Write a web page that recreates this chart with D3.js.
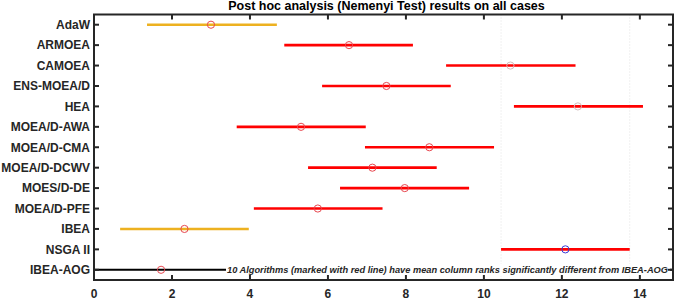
<!DOCTYPE html>
<html>
<head>
<meta charset="utf-8">
<script src="https://cdn.jsdelivr.net/npm/d3@7"></script>
<style>
  body { margin: 0; background: #fff; }
  text { font-family: "Liberation Sans", Arial, sans-serif; }
</style>
</head>
<body>
<svg id="chart" width="685" height="303"></svg>
<script>
const algorithms = ["AdaW", "ARMOEA", "CAMOEA", "ENS-MOEA/D", "HEA", "MOEA/D-AWA", "MOEA/D-CMA",
  "MOEA/D-DCWV", "MOES/D-DE", "MOEA/D-PFE", "IBEA", "NSGA II", "IBEA-AOG"];
const meanRanks = [3.0, 6.54, 10.68, 7.5, 12.41, 5.31, 8.6, 7.14, 7.97, 5.74, 2.32, 12.09, 1.72];
const lowerBounds = [1.36, 4.88, 9.03, 5.85, 10.77, 3.66, 6.95, 5.49, 6.31, 4.10, 0.67, 10.44, 0.07];
const upperBounds = [4.69, 8.18, 12.35, 9.15, 14.08, 6.97, 10.26, 8.79, 9.62, 7.40, 3.97, 13.74, 3.37];
// group: 0 = not different (orange), 1 = different (red), 2 = selected, 3 = control
const groupType = [0, 1, 1, 1, 1, 1, 1, 1, 1, 1, 0, 2, 3];
const xTicks = [0, 2, 4, 6, 8, 10, 12, 14];
const titleText = "Post hoc analysis (Nemenyi Test) results on all cases";
const noteText = "10 Algorithms (marked with red line) have mean column ranks significantly different from IBEA-AOG";

const svg = d3.select("#chart");
const mLeft = 94, mRight = 673, mTop = 14.5, mBottom = 280;
const axisColor = "#262626";

const x = d3.scaleLinear().domain([0, 14.85]).range([mLeft, mRight]);
const y = d3.scaleLinear().domain([0.5, 13.5]).range([mTop, mBottom]);

const lineColor = t => t === 0 ? "#EDB120" : t === 3 ? "#000" : "#FF0000";
const markColor = (t, i) => t === 2 ? "#3b3bd6" : (i === 2 || i === 4) ? "#d4bcbc" : "#e8474f";

// reference lines at selected group's interval
const sel = groupType.indexOf(2);
svg.selectAll("line.ref")
  .data([lowerBounds[sel], upperBounds[sel]])
  .enter().append("line")
  .attr("x1", d => x(d)).attr("x2", d => x(d))
  .attr("y1", mTop).attr("y2", mBottom)
  .attr("stroke", "#e2e2e2").attr("stroke-width", 1)
  .attr("stroke-dasharray", "1,2");

// interval lines
const rows = algorithms.map((name, i) => ({
  name, i, mean: meanRanks[i],
  lo: groupType[i] === 3 ? x.domain()[0] : lowerBounds[i],
  hi: groupType[i] === 3 ? x.domain()[1] : upperBounds[i],
  t: groupType[i]
}));

svg.append("g").selectAll("line")
  .data(rows)
  .enter().append("line")
  .attr("x1", d => x(d.lo)).attr("x2", d => x(d.hi))
  .attr("y1", d => y(d.i + 1)).attr("y2", d => y(d.i + 1))
  .attr("stroke", d => lineColor(d.t))
  .attr("stroke-width", d => d.t === 3 ? 2 : 2.6);

// note text with white background on the control line
const note = svg.append("g");
note.append("rect").attr("fill", "#fff")
  .attr("x", 226).attr("y", y(13) - 6).attr("width", 444).attr("height", 12);
note.append("text")
  .attr("x", 227).attr("y", y(13) + 3.5)
  .attr("font-size", 9.6).attr("font-weight", "bold").attr("font-style", "italic")
  .attr("fill", "#262626")
  .attr("textLength", 441).attr("lengthAdjust", "spacingAndGlyphs")
  .text(noteText);

// markers
svg.append("g").selectAll("circle")
  .data(rows)
  .enter().append("circle")
  .attr("cx", d => x(d.mean)).attr("cy", d => y(d.i + 1))
  .attr("r", 3.6)
  .attr("fill", "none")
  .attr("stroke", d => markColor(d.t, d.i))
  .attr("stroke-width", 1);

// axes box
svg.append("rect")
  .attr("x", mLeft).attr("y", mTop)
  .attr("width", mRight - mLeft).attr("height", mBottom - mTop)
  .attr("fill", "none").attr("stroke", axisColor).attr("stroke-width", 2);

const tl = 5;
// x ticks (inward, top and bottom)
const xt = svg.append("g");
xTicks.filter(d => d > 0).forEach(d => {
  xt.append("line").attr("x1", x(d)).attr("x2", x(d)).attr("y1", mBottom).attr("y2", mBottom - tl)
    .attr("stroke", axisColor).attr("stroke-width", 2);
  xt.append("line").attr("x1", x(d)).attr("x2", x(d)).attr("y1", mTop).attr("y2", mTop + tl)
    .attr("stroke", axisColor).attr("stroke-width", 2);
});
svg.append("g").selectAll("text")
  .data(xTicks)
  .enter().append("text")
  .attr("x", d => x(d)).attr("y", 298)
  .attr("text-anchor", "middle")
  .attr("font-size", 12).attr("font-weight", "bold").attr("fill", axisColor)
  .text(d => d);

// y ticks and labels
const yt = svg.append("g");
rows.forEach(d => {
  yt.append("line").attr("x1", mLeft).attr("x2", mLeft + tl).attr("y1", y(d.i + 1)).attr("y2", y(d.i + 1))
    .attr("stroke", axisColor).attr("stroke-width", 2);
  yt.append("line").attr("x1", mRight).attr("x2", mRight - tl).attr("y1", y(d.i + 1)).attr("y2", y(d.i + 1))
    .attr("stroke", axisColor).attr("stroke-width", 2);
});
svg.append("g").selectAll("text")
  .data(rows)
  .enter().append("text")
  .attr("x", 90).attr("y", d => y(d.i + 1) + 4.3)
  .attr("text-anchor", "end")
  .attr("font-size", 12).attr("font-weight", "bold").attr("fill", axisColor)
  .text(d => d.name);

// title
svg.append("text")
  .attr("x", (222 + 551) / 2).attr("y", 10)
  .attr("text-anchor", "middle")
  .attr("font-size", 12.5).attr("font-weight", "bold").attr("fill", "#000")
  .text(titleText);
</script>
</body>
</html>
